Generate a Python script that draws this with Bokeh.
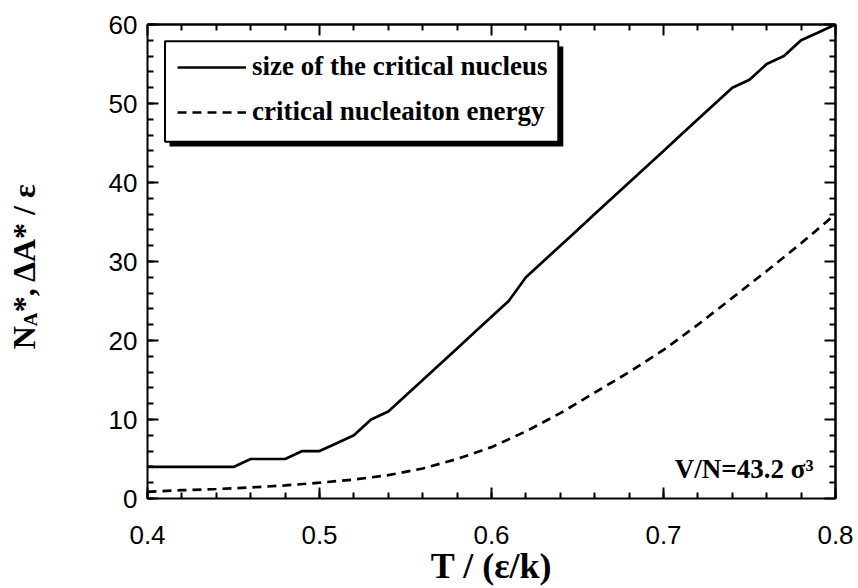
import math

from bokeh.plotting import figure
from bokeh.layouts import row
from bokeh.models import (Range1d, SingleIntervalTicker, FixedTicker, LinearAxis, Legend,
                          LegendItem, Label, BoxAnnotation, PrintfTickFormatter)
from bokeh.core.properties import value
from bokeh.embed import file_html
from bokeh.resources import INLINE

# Reduced temperature grid for the critical-nucleus size
temperature = [0.40, 0.41, 0.42, 0.43, 0.44, 0.45, 0.46, 0.47, 0.48, 0.49,
               0.50, 0.51, 0.52, 0.53, 0.54, 0.55, 0.56, 0.57, 0.58, 0.59,
               0.60, 0.61, 0.62, 0.63, 0.64, 0.65, 0.66, 0.67, 0.68, 0.69,
               0.70, 0.71, 0.72, 0.73, 0.74, 0.75, 0.76, 0.77, 0.78, 0.79, 0.80]
nucleus_size = [4, 4, 4, 4, 4, 4, 5, 5, 5, 6,
                6, 7, 8, 10, 11, 13, 15, 17, 19, 21,
                23, 25, 28, 30, 32, 34, 36, 38, 40, 42,
                44, 46, 48, 50, 52, 53, 55, 56, 58, 59, 60]

# Reduced temperature grid for the nucleation free-energy barrier
temperature_e = [0.40, 0.42, 0.44, 0.46, 0.48, 0.50, 0.52, 0.54, 0.56, 0.58,
                 0.60, 0.62, 0.64, 0.66, 0.68, 0.70, 0.72, 0.74, 0.76, 0.78, 0.80]
barrier = [0.85, 1.05, 1.2, 1.4, 1.65, 2.0, 2.4, 2.95, 3.8, 5.0,
           6.5, 8.5, 10.8, 13.4, 16.0, 18.8, 22.0, 25.4, 28.8, 32.3, 36.0]

# Tick positions (mirror ticks on the top and right frame edges)
x_major = [0.4, 0.5, 0.6, 0.7, 0.8]
x_minor = [0.42, 0.44, 0.46, 0.48, 0.52, 0.54, 0.56, 0.58, 0.62, 0.64, 0.66, 0.68,
           0.72, 0.74, 0.76, 0.78]
y_major = [0, 10, 20, 30, 40, 50, 60]
y_minor = [2, 4, 6, 8, 12, 14, 16, 18, 22, 24, 26, 28, 32, 34, 36, 38,
           42, 44, 46, 48, 52, 54, 56, 58]

legend_labels = ["size of the critical nucleus", "critical nucleaiton energy"]
x_title = "T / (ε/k)"
y_title = ["N", "A", "*, ΔA* / ε"]
annotation = "V/N=43.2 σ³"

SERIF = "Liberation Serif"
SANS = "Liberation Sans"

W, H = 858, 588
TW = 60                      # width of the strip holding the y-axis title
BORDER_TOP, BORDER_BOTTOM = 24, 88

# ---- narrow strip carrying the rotated y-axis title ----
# Its frame is aligned with the main plot's frame, so the y range is chosen
# to make one data unit equal one pixel (y = distance from the page bottom).
ts = figure(width=TW, height=H, output_backend="svg", toolbar_location=None,
            x_range=Range1d(0, TW), y_range=Range1d(BORDER_BOTTOM, H - BORDER_TOP),
            min_border_left=0, min_border_right=0, min_border_top=BORDER_TOP,
            min_border_bottom=BORDER_BOTTOM, x_axis_type=None, y_axis_type=None)
ts.grid.visible = False
ts.outline_line_color = None
title_kw = dict(angle=math.pi / 2, text_font=value(SERIF), text_font_style="bold",
                text_color="black", text_baseline="alphabetic", text_align="left")
ts.text(x=[23.5], y=[238], text=[y_title[0]], text_font_size="32px", **title_kw)
ts.text(x=[29.5], y=[261], text=[y_title[1]], text_font_size="19px", **title_kw)
ts.text(x=[23.5], y=[275], text=[y_title[2]], text_font_size="32px", **title_kw)

# ---- main plot ----
p = figure(width=W - TW, height=H, output_backend="svg", toolbar_location=None,
           x_range=Range1d(0.4, 0.8), y_range=Range1d(0, 60),
           min_border_left=147 - TW, min_border_right=23, min_border_top=BORDER_TOP,
           min_border_bottom=BORDER_BOTTOM, x_axis_type=None, y_axis_type=None)
p.grid.visible = False
p.outline_line_color = None
p.background_fill_color = "white"
p.border_fill_color = "white"


def style_axis(ax):
    ax.axis_line_width = 2
    ax.axis_line_color = "black"
    ax.major_tick_in = 11
    ax.major_tick_out = 0
    ax.minor_tick_in = 6
    ax.minor_tick_out = 0
    ax.major_tick_line_width = 2
    ax.minor_tick_line_width = 2
    ax.major_tick_line_color = "black"
    ax.minor_tick_line_color = "black"
    ax.major_label_text_font = SANS
    ax.major_label_text_color = "black"
    ax.major_label_text_font_size = "26px"


xb = LinearAxis(ticker=SingleIntervalTicker(interval=0.1, num_minor_ticks=5),
                formatter=PrintfTickFormatter(format="%.1f"))
style_axis(xb)
xb.major_label_standoff = 27
xb.axis_label = x_title
xb.axis_label_text_font = SERIF
xb.axis_label_text_font_style = "bold"
xb.axis_label_text_font_size = "36px"
xb.axis_label_text_color = "black"
xb.axis_label_standoff = -1
p.add_layout(xb, "below")

yl = LinearAxis(ticker=SingleIntervalTicker(interval=10, num_minor_ticks=5))
style_axis(yl)
yl.major_label_standoff = 10
p.add_layout(yl, "left")


def mirror_axis(major, minor, side):
    # unlabelled axes: one for the long ticks, one for the short ones
    for ticks, length in ((major, 11), (minor, 6)):
        ax = LinearAxis(ticker=FixedTicker(ticks=[], minor_ticks=ticks))
        ax.axis_line_width = 2
        ax.axis_line_color = "black"
        ax.minor_tick_in = length
        ax.minor_tick_out = 0
        ax.minor_tick_line_width = 2
        ax.minor_tick_line_color = "black"
        ax.major_tick_in = 0
        ax.major_tick_out = 0
        ax.major_label_standoff = 0
        ax.axis_label_standoff = 0
        p.add_layout(ax, side)


mirror_axis(x_major, x_minor, "above")
mirror_axis(y_major, y_minor, "right")

r_size = p.line(temperature, nucleus_size, line_color="black", line_width=2.7)
r_barrier = p.line(temperature_e, barrier, line_color="black", line_width=2.7,
                   line_dash="9 6")

# Legend frame with its drop shadow
screen = dict(left_units="screen", right_units="screen",
              bottom_units="screen", top_units="screen")
p.add_layout(BoxAnnotation(left=22, right=415.8, bottom=352, top=452,
                           fill_color="black", fill_alpha=1, line_color=None, **screen))
p.add_layout(BoxAnnotation(left=17.5, right=410.8, bottom=356.7, top=457.3,
                           fill_color="white", fill_alpha=1, line_color="black",
                           line_width=2, line_alpha=1, **screen))

legend = Legend(items=[LegendItem(label=legend_labels[0], renderers=[r_size]),
                       LegendItem(label=legend_labels[1], renderers=[r_barrier])],
                location=(30, 371), margin=0, padding=10, spacing=14,
                glyph_width=69, glyph_height=30, label_height=30, label_standoff=6,
                label_text_font=SERIF, label_text_font_style="bold",
                label_text_font_size="27px", label_text_color="black",
                border_line_color=None, background_fill_alpha=0)
p.add_layout(legend)

p.add_layout(Label(x=666, y=30, x_units="screen", y_units="screen", text=annotation,
                   text_font=SERIF, text_font_style="bold", text_font_size="27px",
                   text_align="right", text_baseline="alphabetic", text_color="black"))

layout = row(ts, p, spacing=0)
open("out.html", "w").write(file_html(layout, INLINE))
